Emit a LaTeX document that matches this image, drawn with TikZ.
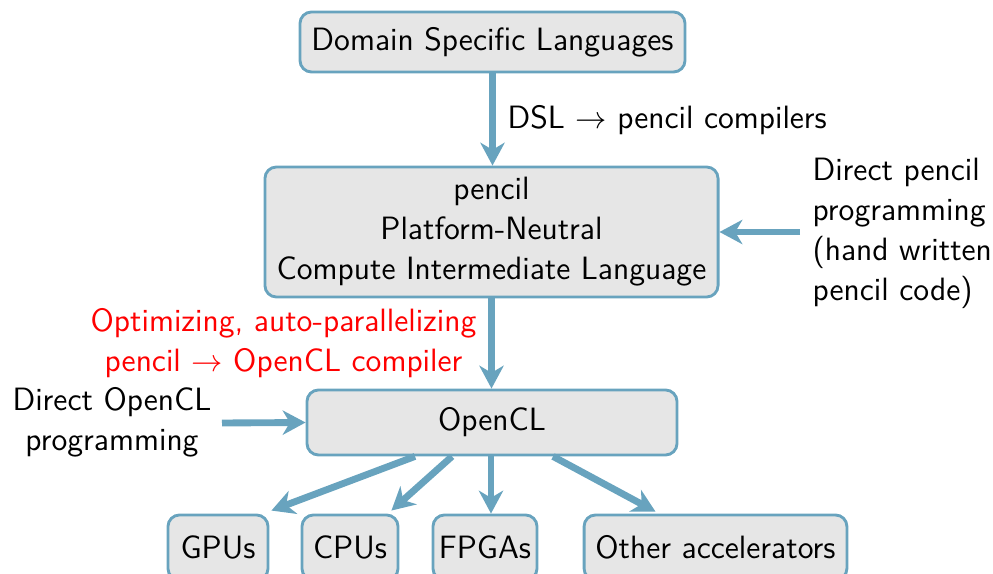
\documentclass[tikz,border=0pt]{standalone}
\usetikzlibrary{calc,arrows.meta}
\definecolor{bord}{RGB}{104,163,190}
\definecolor{boxfill}{RGB}{230,230,230}
\begin{document}
\begin{tikzpicture}[x=0.35pt,y=-0.35pt,
  font=\sffamily\fontsize{11.3pt}{14pt}\selectfont,
  blk/.style={draw=bord,fill=boxfill,line width=1pt,rounded corners=4pt,inner sep=0pt,align=center},
  arr/.style={draw=bord,line width=2.4pt,-{Stealth[length=8pt,width=8.5pt,inset=2.5pt]}},
  lbl/.style={inner sep=0pt,align=center}]
\useasboundingbox (0,0) rectangle (993,574);
\node[blk,minimum width=134.75pt,minimum height=21pt] (dsl) at (492.5,42) {Domain Specific Languages};
\node[blk,minimum width=158.6pt,minimum height=45.5pt] (pencil) at (491.5,232) {pencil\\Platform-Neutral\\Compute Intermediate Language};
\node[blk,minimum width=129.5pt,minimum height=22.75pt] (opencl) at (492,422.5) {OpenCL};
\node[blk,minimum width=35pt,minimum height=22.75pt] (gpu) at (218,547.5) {GPUs};
\node[blk,minimum width=33.6pt,minimum height=22.75pt] (cpu) at (350,547.5) {CPUs};
\node[blk,minimum width=36.4pt,minimum height=22.75pt] (fpga) at (485,547.5) {FPGAs};
\node[blk,minimum width=92pt,minimum height=22.75pt] (other) at (715.5,547.5) {Other accelerators};

\node[lbl,anchor=west] (dsllbl) at (507,120) {DSL $\rightarrow$ pencil compilers};
\node[lbl,anchor=west,align=left] (directpencil) at (812,233) {Direct pencil\\programming\\(hand written\\pencil code)};
\node[lbl,text=red] (optlbl) at (283.5,343) {Optimizing, auto-parallelizing\\pencil $\rightarrow$ OpenCL compiler};
\node[lbl] (directocl) at (112,422) {Direct OpenCL\\programming};

\coordinate (rin) at (800,232);
\coordinate (lin) at (222,423);
\coordinate (fstart) at ($(opencl.south)+(-1,0)$);
\coordinate (fend) at (fstart |- fpga.north);

\draw[arr] (dsl.south) -- (dsl.south |- pencil.north);
\draw[arr] (rin) -- (pencil.east);
\draw[arr] (pencil.south) -- (pencil.south |- opencl.north);
\draw[arr] (lin) -- (opencl.west);
\draw[arr] ($(opencl.south)+(-77,0)$) -- ($(gpu.north east)+(2,-3)$);
\draw[arr] ($(opencl.south)+(-40,0)$) -- ($(cpu.north east)+(-8,-3)$);
\draw[arr] (fstart) -- (fend);
\draw[arr] ($(opencl.south)+(61,0)$) -- ($(other.north)+(-60,-2)$);
\end{tikzpicture}
\end{document}
